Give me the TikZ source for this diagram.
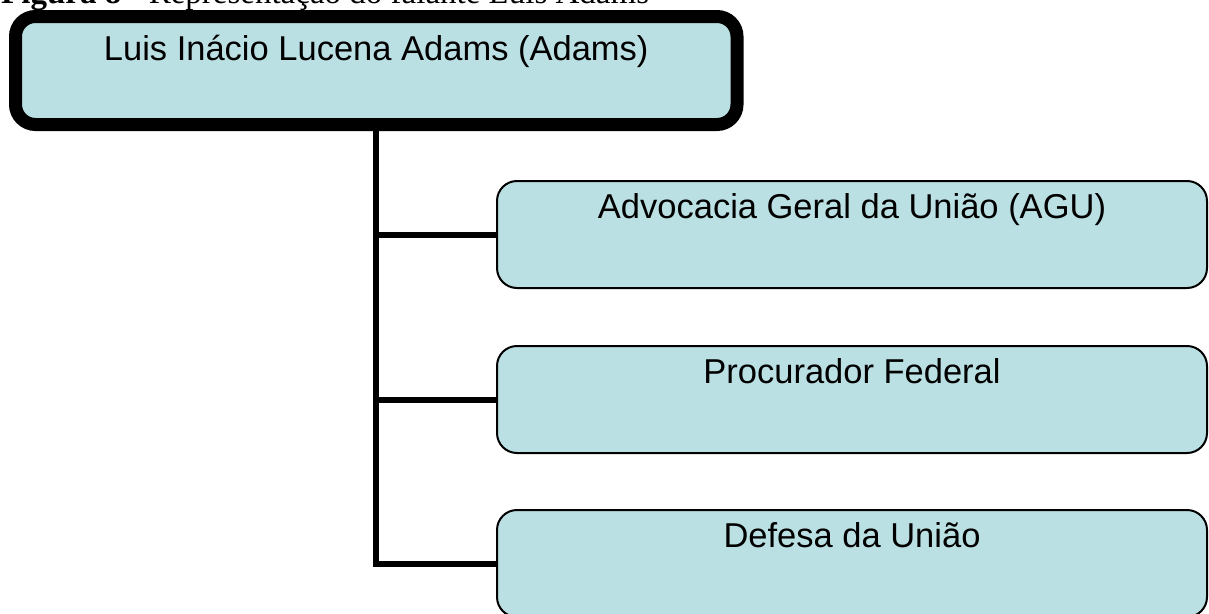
\documentclass[tikz,border=0pt]{standalone}
\usepackage{fontspec}
\setmainfont{Liberation Serif}
\newfontfamily\boxfont{Liberation Sans}
\definecolor{boxblue}{RGB}{187,224,227}

\begin{document}
\begin{tikzpicture}[x=1pt,y=-1pt,
        boss/.style={draw,fill=boxblue,line width=13pt,rounded corners=20pt,
          minimum width=721.5pt,inner ysep=0pt,text height=43.5pt,text depth=64.5pt,
          font=\boxfont\fontsize{34.5}{40}\selectfont},
        unit/.style={draw,fill=boxblue,line width=2pt,rounded corners=20pt,
          minimum width=710pt,inner ysep=0pt,text height=37pt,text depth=70pt,
          font=\boxfont\fontsize{34.5}{40}\selectfont},
        wire/.style={line width=6pt}]
        \useasboundingbox (0,0) rectangle (1209,613) ;
        \clip (0,0) rectangle (1209,613) ;
        %\draw[very thin,gray,step=50] (0,0) grid (1209,613) ;
        \node[anchor=base west,inner xsep=0pt,font=\fontsize{33}{38}\selectfont] (caption) at (1,4)
          {\textbf{Figura 8 -} Representação do falante Luis Adams} ;
        \node[boss] (adams) at (376.25,70.5) {Luis Inácio Lucena Adams (Adams)} ;
        \node[unit] (agu) at (852,234.5) {Advocacia Geral da União (AGU)} ;
        \node[unit] (procurador) at (852,399.5) {Procurador Federal} ;
        \node[unit] (defesa) at (852,563.5) {Defesa da União} ;
        \draw[wire] (adams.south) -- (adams.south |- defesa.west) -- (defesa.west) ;
        \draw[wire] (adams.south |- agu.west) -- (agu.west) ;
        \draw[wire] (adams.south |- procurador.west) -- (procurador.west) ;
      \end{tikzpicture}
\end{document}
